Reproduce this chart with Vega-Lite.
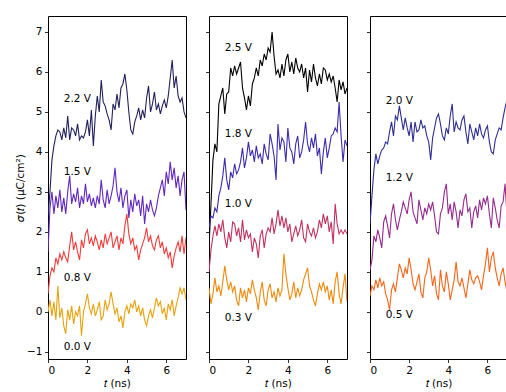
{
  "$schema": "https://vega.github.io/schema/vega-lite/v6.json",
  "padding": {"left": 15, "top": 15, "right": 0, "bottom": 0},
  "background": "white",
  "config": {
    "view": {"stroke": "#000", "strokeWidth": 1},
    "concat": {"spacing": 17},
    "axis": {
      "domain": false, "grid": false,
      "tickColor": "#000", "tickSize": 3.5, "tickWidth": 0.8,
      "labelColor": "#000", "labelFont": "DejaVu Sans", "labelFontSize": 10.5, "labelPadding": 2.5,
      "titleFont": "DejaVu Sans", "titleFontSize": 10.5, "titleFontWeight": "normal", "titleColor": "#000"
    },
    "text": {"font": "DejaVu Sans"}
  },
  "datasets": {
    "labels": [
      {"s": "2.2 V", "t": 0.8, "v": 5.33}, {"s": "1.5 V", "t": 0.8, "v": 3.51},
      {"s": "0.8 V", "t": 0.8, "v": 0.85}, {"s": "0.0 V", "t": 0.8, "v": -0.89},
      {"s": "2.5 V", "t": 0.8, "v": 6.6}, {"s": "1.8 V", "t": 0.8, "v": 4.44},
      {"s": "1.0 V", "t": 0.8, "v": 2.7}, {"s": "0.3 V", "t": 0.8, "v": -0.15},
      {"s": "2.0 V", "t": 0.8, "v": 5.27}, {"s": "1.2 V", "t": 0.8, "v": 3.36},
      {"s": "0.5 V", "t": 0.8, "v": -0.08}
    ],
    "curves": [
{"s":"2.2 V","t":0,"v":2.4},{"s":"2.2 V","t":0.1,"v":3.0},{"s":"2.2 V","t":0.2,"v":3.8},{"s":"2.2 V","t":0.3,"v":4.15},{"s":"2.2 V","t":0.4,"v":4.4},{"s":"2.2 V","t":0.5,"v":4.55},{"s":"2.2 V","t":0.6,"v":4.5},{"s":"2.2 V","t":0.7,"v":4.3},{"s":"2.2 V","t":0.8,"v":4.6},{"s":"2.2 V","t":0.9,"v":4.35},
{"s":"2.2 V","t":1.0,"v":4.9},{"s":"2.2 V","t":1.1,"v":4.3},{"s":"2.2 V","t":1.2,"v":4.6},{"s":"2.2 V","t":1.3,"v":4.55},{"s":"2.2 V","t":1.4,"v":4.4},{"s":"2.2 V","t":1.5,"v":4.7},{"s":"2.2 V","t":1.6,"v":4.3},{"s":"2.2 V","t":1.7,"v":4.4},{"s":"2.2 V","t":1.8,"v":4.35},{"s":"2.2 V","t":1.9,"v":4.5},
{"s":"2.2 V","t":2.0,"v":4.8},{"s":"2.2 V","t":2.1,"v":4.4},{"s":"2.2 V","t":2.2,"v":5.05},{"s":"2.2 V","t":2.3,"v":4.15},{"s":"2.2 V","t":2.4,"v":4.9},{"s":"2.2 V","t":2.5,"v":5.4},{"s":"2.2 V","t":2.6,"v":5.0},{"s":"2.2 V","t":2.7,"v":5.8},{"s":"2.2 V","t":2.8,"v":5.25},{"s":"2.2 V","t":2.9,"v":5.15},
{"s":"2.2 V","t":3.0,"v":4.95},{"s":"2.2 V","t":3.1,"v":4.8},{"s":"2.2 V","t":3.2,"v":4.55},{"s":"2.2 V","t":3.3,"v":5.2},{"s":"2.2 V","t":3.4,"v":5.05},{"s":"2.2 V","t":3.5,"v":5.45},{"s":"2.2 V","t":3.6,"v":5.1},{"s":"2.2 V","t":3.7,"v":5.6},{"s":"2.2 V","t":3.8,"v":5.7},{"s":"2.2 V","t":3.9,"v":5.95},
{"s":"2.2 V","t":4.0,"v":5.55},{"s":"2.2 V","t":4.1,"v":5.0},{"s":"2.2 V","t":4.2,"v":4.55},{"s":"2.2 V","t":4.3,"v":4.45},{"s":"2.2 V","t":4.4,"v":4.75},{"s":"2.2 V","t":4.5,"v":4.9},{"s":"2.2 V","t":4.6,"v":5.1},{"s":"2.2 V","t":4.7,"v":4.8},{"s":"2.2 V","t":4.8,"v":5.05},{"s":"2.2 V","t":4.9,"v":4.85},
{"s":"2.2 V","t":5.0,"v":5.35},{"s":"2.2 V","t":5.1,"v":5.65},{"s":"2.2 V","t":5.2,"v":5.0},{"s":"2.2 V","t":5.3,"v":5.2},{"s":"2.2 V","t":5.4,"v":5.5},{"s":"2.2 V","t":5.5,"v":5.05},{"s":"2.2 V","t":5.6,"v":5.2},{"s":"2.2 V","t":5.7,"v":4.95},{"s":"2.2 V","t":5.8,"v":5.15},{"s":"2.2 V","t":5.9,"v":5.3},
{"s":"2.2 V","t":6.0,"v":5.1},{"s":"2.2 V","t":6.1,"v":5.4},{"s":"2.2 V","t":6.2,"v":5.85},{"s":"2.2 V","t":6.3,"v":6.3},{"s":"2.2 V","t":6.4,"v":5.6},{"s":"2.2 V","t":6.5,"v":5.9},{"s":"2.2 V","t":6.6,"v":5.4},{"s":"2.2 V","t":6.7,"v":5.25},{"s":"2.2 V","t":6.8,"v":5.35},{"s":"2.2 V","t":6.9,"v":5.0},{"s":"2.2 V","t":7.0,"v":4.85},

{"s":"1.5 V","t":0,"v":1.5},{"s":"1.5 V","t":0.1,"v":2.6},{"s":"1.5 V","t":0.2,"v":3.0},{"s":"1.5 V","t":0.3,"v":2.45},{"s":"1.5 V","t":0.4,"v":2.9},{"s":"1.5 V","t":0.5,"v":2.6},{"s":"1.5 V","t":0.6,"v":3.05},{"s":"1.5 V","t":0.7,"v":2.5},{"s":"1.5 V","t":0.8,"v":2.85},{"s":"1.5 V","t":0.9,"v":2.45},
{"s":"1.5 V","t":1.0,"v":3.0},{"s":"1.5 V","t":1.1,"v":3.4},{"s":"1.5 V","t":1.2,"v":2.7},{"s":"1.5 V","t":1.3,"v":2.95},{"s":"1.5 V","t":1.4,"v":2.75},{"s":"1.5 V","t":1.5,"v":3.1},{"s":"1.5 V","t":1.6,"v":2.6},{"s":"1.5 V","t":1.7,"v":2.9},{"s":"1.5 V","t":1.8,"v":2.7},{"s":"1.5 V","t":1.9,"v":3.2},
{"s":"1.5 V","t":2.0,"v":2.75},{"s":"1.5 V","t":2.1,"v":2.95},{"s":"1.5 V","t":2.2,"v":2.65},{"s":"1.5 V","t":2.3,"v":2.85},{"s":"1.5 V","t":2.4,"v":2.6},{"s":"1.5 V","t":2.5,"v":2.9},{"s":"1.5 V","t":2.6,"v":2.7},{"s":"1.5 V","t":2.7,"v":3.3},{"s":"1.5 V","t":2.8,"v":2.8},{"s":"1.5 V","t":2.9,"v":2.6},
{"s":"1.5 V","t":3.0,"v":3.05},{"s":"1.5 V","t":3.1,"v":2.7},{"s":"1.5 V","t":3.2,"v":2.9},{"s":"1.5 V","t":3.3,"v":3.15},{"s":"1.5 V","t":3.4,"v":3.6},{"s":"1.5 V","t":3.5,"v":3.0},{"s":"1.5 V","t":3.6,"v":2.75},{"s":"1.5 V","t":3.7,"v":3.1},{"s":"1.5 V","t":3.8,"v":2.6},{"s":"1.5 V","t":3.9,"v":2.9},
{"s":"1.5 V","t":4.0,"v":3.05},{"s":"1.5 V","t":4.1,"v":2.35},{"s":"1.5 V","t":4.2,"v":2.8},{"s":"1.5 V","t":4.3,"v":2.5},{"s":"1.5 V","t":4.4,"v":2.95},{"s":"1.5 V","t":4.5,"v":2.65},{"s":"1.5 V","t":4.6,"v":2.8},{"s":"1.5 V","t":4.7,"v":2.4},{"s":"1.5 V","t":4.8,"v":2.9},{"s":"1.5 V","t":4.9,"v":2.2},
{"s":"1.5 V","t":5.0,"v":2.7},{"s":"1.5 V","t":5.1,"v":2.5},{"s":"1.5 V","t":5.2,"v":2.8},{"s":"1.5 V","t":5.3,"v":2.55},{"s":"1.5 V","t":5.4,"v":2.4},{"s":"1.5 V","t":5.5,"v":2.6},{"s":"1.5 V","t":5.6,"v":2.9},{"s":"1.5 V","t":5.7,"v":3.1},{"s":"1.5 V","t":5.8,"v":3.3},{"s":"1.5 V","t":5.9,"v":2.9},
{"s":"1.5 V","t":6.0,"v":3.5},{"s":"1.5 V","t":6.1,"v":3.2},{"s":"1.5 V","t":6.2,"v":3.75},{"s":"1.5 V","t":6.3,"v":3.3},{"s":"1.5 V","t":6.4,"v":3.6},{"s":"1.5 V","t":6.5,"v":3.1},{"s":"1.5 V","t":6.6,"v":3.4},{"s":"1.5 V","t":6.7,"v":2.9},{"s":"1.5 V","t":6.8,"v":3.3},{"s":"1.5 V","t":6.9,"v":3.5},{"s":"1.5 V","t":7.0,"v":2.55},

{"s":"0.8 V","t":0,"v":0.45},{"s":"0.8 V","t":0.1,"v":0.9},{"s":"0.8 V","t":0.2,"v":1.1},{"s":"0.8 V","t":0.3,"v":1.0},{"s":"0.8 V","t":0.4,"v":1.35},{"s":"0.8 V","t":0.5,"v":1.2},{"s":"0.8 V","t":0.6,"v":1.45},{"s":"0.8 V","t":0.7,"v":1.3},{"s":"0.8 V","t":0.8,"v":1.5},{"s":"0.8 V","t":0.9,"v":1.35},
{"s":"0.8 V","t":1.0,"v":1.25},{"s":"0.8 V","t":1.1,"v":1.65},{"s":"0.8 V","t":1.2,"v":2.0},{"s":"0.8 V","t":1.3,"v":1.55},{"s":"0.8 V","t":1.4,"v":1.75},{"s":"0.8 V","t":1.5,"v":1.5},{"s":"0.8 V","t":1.6,"v":1.3},{"s":"0.8 V","t":1.7,"v":1.8},{"s":"0.8 V","t":1.8,"v":1.6},{"s":"0.8 V","t":1.9,"v":1.95},
{"s":"0.8 V","t":2.0,"v":2.05},{"s":"0.8 V","t":2.1,"v":1.7},{"s":"0.8 V","t":2.2,"v":1.85},{"s":"0.8 V","t":2.3,"v":1.65},{"s":"0.8 V","t":2.4,"v":1.9},{"s":"0.8 V","t":2.5,"v":1.75},{"s":"0.8 V","t":2.6,"v":1.55},{"s":"0.8 V","t":2.7,"v":1.8},{"s":"0.8 V","t":2.8,"v":1.6},{"s":"0.8 V","t":2.9,"v":1.95},
{"s":"0.8 V","t":3.0,"v":1.7},{"s":"0.8 V","t":3.1,"v":1.85},{"s":"0.8 V","t":3.2,"v":2.0},{"s":"0.8 V","t":3.3,"v":1.6},{"s":"0.8 V","t":3.4,"v":1.75},{"s":"0.8 V","t":3.5,"v":1.9},{"s":"0.8 V","t":3.6,"v":1.55},{"s":"0.8 V","t":3.7,"v":1.85},{"s":"0.8 V","t":3.8,"v":1.7},{"s":"0.8 V","t":3.9,"v":2.15},
{"s":"0.8 V","t":4.0,"v":2.45},{"s":"0.8 V","t":4.1,"v":1.95},{"s":"0.8 V","t":4.2,"v":1.7},{"s":"0.8 V","t":4.3,"v":1.85},{"s":"0.8 V","t":4.4,"v":1.55},{"s":"0.8 V","t":4.5,"v":1.65},{"s":"0.8 V","t":4.6,"v":1.3},{"s":"0.8 V","t":4.7,"v":1.55},{"s":"0.8 V","t":4.8,"v":1.7},{"s":"0.8 V","t":4.9,"v":1.85},
{"s":"0.8 V","t":5.0,"v":2.1},{"s":"0.8 V","t":5.1,"v":1.75},{"s":"0.8 V","t":5.2,"v":1.9},{"s":"0.8 V","t":5.3,"v":1.65},{"s":"0.8 V","t":5.4,"v":1.55},{"s":"0.8 V","t":5.5,"v":1.8},{"s":"0.8 V","t":5.6,"v":1.9},{"s":"0.8 V","t":5.7,"v":1.6},{"s":"0.8 V","t":5.8,"v":1.75},{"s":"0.8 V","t":5.9,"v":1.45},
{"s":"0.8 V","t":6.0,"v":1.6},{"s":"0.8 V","t":6.1,"v":1.35},{"s":"0.8 V","t":6.2,"v":1.5},{"s":"0.8 V","t":6.3,"v":1.1},{"s":"0.8 V","t":6.4,"v":1.4},{"s":"0.8 V","t":6.5,"v":1.6},{"s":"0.8 V","t":6.6,"v":1.75},{"s":"0.8 V","t":6.7,"v":1.5},{"s":"0.8 V","t":6.8,"v":1.9},{"s":"0.8 V","t":6.9,"v":1.45},{"s":"0.8 V","t":7.0,"v":1.85},

{"s":"0.0 V","t":0,"v":0.0},{"s":"0.0 V","t":0.1,"v":0.3},{"s":"0.0 V","t":0.2,"v":-0.1},{"s":"0.0 V","t":0.3,"v":0.25},{"s":"0.0 V","t":0.4,"v":-0.2},{"s":"0.0 V","t":0.5,"v":0.65},{"s":"0.0 V","t":0.6,"v":-0.15},{"s":"0.0 V","t":0.7,"v":0.1},{"s":"0.0 V","t":0.8,"v":-0.35},{"s":"0.0 V","t":0.9,"v":-0.55},
{"s":"0.0 V","t":1.0,"v":0.05},{"s":"0.0 V","t":1.1,"v":-0.2},{"s":"0.0 V","t":1.2,"v":0.15},{"s":"0.0 V","t":1.3,"v":-0.3},{"s":"0.0 V","t":1.4,"v":0.0},{"s":"0.0 V","t":1.5,"v":-0.1},{"s":"0.0 V","t":1.6,"v":0.15},{"s":"0.0 V","t":1.7,"v":-0.6},{"s":"0.0 V","t":1.8,"v":0.0},{"s":"0.0 V","t":1.9,"v":0.2},
{"s":"0.0 V","t":2.0,"v":0.45},{"s":"0.0 V","t":2.1,"v":0.1},{"s":"0.0 V","t":2.2,"v":-0.05},{"s":"0.0 V","t":2.3,"v":0.2},{"s":"0.0 V","t":2.4,"v":-0.1},{"s":"0.0 V","t":2.5,"v":0.05},{"s":"0.0 V","t":2.6,"v":0.25},{"s":"0.0 V","t":2.7,"v":-0.2},{"s":"0.0 V","t":2.8,"v":-0.1},{"s":"0.0 V","t":2.9,"v":0.3},
{"s":"0.0 V","t":3.0,"v":0.05},{"s":"0.0 V","t":3.1,"v":0.2},{"s":"0.0 V","t":3.2,"v":0.5},{"s":"0.0 V","t":3.3,"v":0.2},{"s":"0.0 V","t":3.4,"v":-0.05},{"s":"0.0 V","t":3.5,"v":0.1},{"s":"0.0 V","t":3.6,"v":-0.25},{"s":"0.0 V","t":3.7,"v":-0.1},{"s":"0.0 V","t":3.8,"v":-0.4},{"s":"0.0 V","t":3.9,"v":0.0},
{"s":"0.0 V","t":4.0,"v":0.15},{"s":"0.0 V","t":4.1,"v":-0.05},{"s":"0.0 V","t":4.2,"v":0.2},{"s":"0.0 V","t":4.3,"v":0.1},{"s":"0.0 V","t":4.4,"v":0.3},{"s":"0.0 V","t":4.5,"v":0.0},{"s":"0.0 V","t":4.6,"v":0.15},{"s":"0.0 V","t":4.7,"v":-0.1},{"s":"0.0 V","t":4.8,"v":0.1},{"s":"0.0 V","t":4.9,"v":-0.2},
{"s":"0.0 V","t":5.0,"v":-0.35},{"s":"0.0 V","t":5.1,"v":-0.1},{"s":"0.0 V","t":5.2,"v":0.05},{"s":"0.0 V","t":5.3,"v":-0.15},{"s":"0.0 V","t":5.4,"v":0.1},{"s":"0.0 V","t":5.5,"v":0.35},{"s":"0.0 V","t":5.6,"v":0.15},{"s":"0.0 V","t":5.7,"v":0.25},{"s":"0.0 V","t":5.8,"v":-0.05},{"s":"0.0 V","t":5.9,"v":0.1},
{"s":"0.0 V","t":6.0,"v":-0.2},{"s":"0.0 V","t":6.1,"v":0.2},{"s":"0.0 V","t":6.2,"v":0.05},{"s":"0.0 V","t":6.3,"v":0.3},{"s":"0.0 V","t":6.4,"v":-0.1},{"s":"0.0 V","t":6.5,"v":0.15},{"s":"0.0 V","t":6.6,"v":0.35},{"s":"0.0 V","t":6.7,"v":0.6},{"s":"0.0 V","t":6.8,"v":0.45},{"s":"0.0 V","t":6.9,"v":0.6},{"s":"0.0 V","t":7.0,"v":0.3},

{"s":"2.5 V","t":0,"v":1.6},{"s":"2.5 V","t":0.1,"v":2.7},{"s":"2.5 V","t":0.2,"v":3.8},{"s":"2.5 V","t":0.3,"v":4.2},{"s":"2.5 V","t":0.4,"v":4.0},{"s":"2.5 V","t":0.5,"v":5.2},{"s":"2.5 V","t":0.6,"v":5.4},{"s":"2.5 V","t":0.7,"v":5.6},{"s":"2.5 V","t":0.8,"v":4.95},{"s":"2.5 V","t":0.9,"v":5.45},
{"s":"2.5 V","t":1.0,"v":5.5},{"s":"2.5 V","t":1.1,"v":6.1},{"s":"2.5 V","t":1.2,"v":5.9},{"s":"2.5 V","t":1.3,"v":6.15},{"s":"2.5 V","t":1.4,"v":5.95},{"s":"2.5 V","t":1.5,"v":6.1},{"s":"2.5 V","t":1.6,"v":6.25},{"s":"2.5 V","t":1.7,"v":5.6},{"s":"2.5 V","t":1.8,"v":5.35},{"s":"2.5 V","t":1.9,"v":5.05},
{"s":"2.5 V","t":2.0,"v":5.4},{"s":"2.5 V","t":2.1,"v":5.15},{"s":"2.5 V","t":2.2,"v":5.7},{"s":"2.5 V","t":2.3,"v":5.85},{"s":"2.5 V","t":2.4,"v":6.1},{"s":"2.5 V","t":2.5,"v":5.9},{"s":"2.5 V","t":2.6,"v":6.3},{"s":"2.5 V","t":2.7,"v":6.15},{"s":"2.5 V","t":2.8,"v":6.45},{"s":"2.5 V","t":2.9,"v":6.3},
{"s":"2.5 V","t":3.0,"v":6.6},{"s":"2.5 V","t":3.1,"v":6.5},{"s":"2.5 V","t":3.2,"v":7.0},{"s":"2.5 V","t":3.3,"v":6.4},{"s":"2.5 V","t":3.4,"v":5.95},{"s":"2.5 V","t":3.5,"v":6.05},{"s":"2.5 V","t":3.6,"v":5.85},{"s":"2.5 V","t":3.7,"v":6.2},{"s":"2.5 V","t":3.8,"v":5.9},{"s":"2.5 V","t":3.9,"v":6.3},
{"s":"2.5 V","t":4.0,"v":6.45},{"s":"2.5 V","t":4.1,"v":6.0},{"s":"2.5 V","t":4.2,"v":6.25},{"s":"2.5 V","t":4.3,"v":5.95},{"s":"2.5 V","t":4.4,"v":6.35},{"s":"2.5 V","t":4.5,"v":6.1},{"s":"2.5 V","t":4.6,"v":6.0},{"s":"2.5 V","t":4.7,"v":6.2},{"s":"2.5 V","t":4.8,"v":5.85},{"s":"2.5 V","t":4.9,"v":6.1},
{"s":"2.5 V","t":5.0,"v":5.5},{"s":"2.5 V","t":5.1,"v":6.05},{"s":"2.5 V","t":5.2,"v":5.75},{"s":"2.5 V","t":5.3,"v":6.2},{"s":"2.5 V","t":5.4,"v":5.85},{"s":"2.5 V","t":5.5,"v":5.65},{"s":"2.5 V","t":5.6,"v":5.95},{"s":"2.5 V","t":5.7,"v":5.7},{"s":"2.5 V","t":5.8,"v":6.1},{"s":"2.5 V","t":5.9,"v":6.05},
{"s":"2.5 V","t":6.0,"v":5.8},{"s":"2.5 V","t":6.1,"v":5.95},{"s":"2.5 V","t":6.2,"v":5.75},{"s":"2.5 V","t":6.3,"v":5.9},{"s":"2.5 V","t":6.4,"v":5.6},{"s":"2.5 V","t":6.5,"v":5.25},{"s":"2.5 V","t":6.6,"v":5.8},{"s":"2.5 V","t":6.7,"v":5.55},{"s":"2.5 V","t":6.8,"v":5.75},{"s":"2.5 V","t":6.9,"v":5.45},{"s":"2.5 V","t":7.0,"v":5.6},

{"s":"1.8 V","t":0,"v":2.1},{"s":"1.8 V","t":0.1,"v":2.4},{"s":"1.8 V","t":0.2,"v":2.35},{"s":"1.8 V","t":0.3,"v":2.6},{"s":"1.8 V","t":0.4,"v":2.5},{"s":"1.8 V","t":0.5,"v":2.9},{"s":"1.8 V","t":0.6,"v":3.1},{"s":"1.8 V","t":0.7,"v":3.4},{"s":"1.8 V","t":0.8,"v":3.85},{"s":"1.8 V","t":0.9,"v":3.3},
{"s":"1.8 V","t":1.0,"v":3.05},{"s":"1.8 V","t":1.1,"v":3.5},{"s":"1.8 V","t":1.2,"v":3.35},{"s":"1.8 V","t":1.3,"v":3.7},{"s":"1.8 V","t":1.4,"v":3.45},{"s":"1.8 V","t":1.5,"v":3.55},{"s":"1.8 V","t":1.6,"v":3.75},{"s":"1.8 V","t":1.7,"v":4.1},{"s":"1.8 V","t":1.8,"v":3.6},{"s":"1.8 V","t":1.9,"v":3.85},
{"s":"1.8 V","t":2.0,"v":4.25},{"s":"1.8 V","t":2.1,"v":3.9},{"s":"1.8 V","t":2.2,"v":4.05},{"s":"1.8 V","t":2.3,"v":3.75},{"s":"1.8 V","t":2.4,"v":4.15},{"s":"1.8 V","t":2.5,"v":3.85},{"s":"1.8 V","t":2.6,"v":3.95},{"s":"1.8 V","t":2.7,"v":3.7},{"s":"1.8 V","t":2.8,"v":4.2},{"s":"1.8 V","t":2.9,"v":3.95},
{"s":"1.8 V","t":3.0,"v":3.8},{"s":"1.8 V","t":3.1,"v":4.45},{"s":"1.8 V","t":3.2,"v":4.2},{"s":"1.8 V","t":3.3,"v":3.9},{"s":"1.8 V","t":3.4,"v":3.3},{"s":"1.8 V","t":3.5,"v":4.7},{"s":"1.8 V","t":3.6,"v":4.05},{"s":"1.8 V","t":3.7,"v":4.35},{"s":"1.8 V","t":3.8,"v":4.25},{"s":"1.8 V","t":3.9,"v":3.75},
{"s":"1.8 V","t":4.0,"v":4.6},{"s":"1.8 V","t":4.1,"v":4.1},{"s":"1.8 V","t":4.2,"v":4.0},{"s":"1.8 V","t":4.3,"v":3.7},{"s":"1.8 V","t":4.4,"v":4.2},{"s":"1.8 V","t":4.5,"v":4.4},{"s":"1.8 V","t":4.6,"v":3.85},{"s":"1.8 V","t":4.7,"v":4.0},{"s":"1.8 V","t":4.8,"v":4.3},{"s":"1.8 V","t":4.9,"v":4.75},
{"s":"1.8 V","t":5.0,"v":4.2},{"s":"1.8 V","t":5.1,"v":4.0},{"s":"1.8 V","t":5.2,"v":4.35},{"s":"1.8 V","t":5.3,"v":4.1},{"s":"1.8 V","t":5.4,"v":4.45},{"s":"1.8 V","t":5.5,"v":3.9},{"s":"1.8 V","t":5.6,"v":4.1},{"s":"1.8 V","t":5.7,"v":3.45},{"s":"1.8 V","t":5.8,"v":4.0},{"s":"1.8 V","t":5.9,"v":4.35},
{"s":"1.8 V","t":6.0,"v":3.85},{"s":"1.8 V","t":6.1,"v":4.1},{"s":"1.8 V","t":6.2,"v":4.4},{"s":"1.8 V","t":6.3,"v":4.45},{"s":"1.8 V","t":6.4,"v":4.6},{"s":"1.8 V","t":6.5,"v":4.5},{"s":"1.8 V","t":6.6,"v":5.25},{"s":"1.8 V","t":6.7,"v":4.4},{"s":"1.8 V","t":6.8,"v":3.75},{"s":"1.8 V","t":6.9,"v":4.3},{"s":"1.8 V","t":7.0,"v":4.15},

{"s":"1.0 V","t":0,"v":1.0},{"s":"1.0 V","t":0.1,"v":1.55},{"s":"1.0 V","t":0.2,"v":1.9},{"s":"1.0 V","t":0.3,"v":2.15},{"s":"1.0 V","t":0.4,"v":1.9},{"s":"1.0 V","t":0.5,"v":2.2},{"s":"1.0 V","t":0.6,"v":2.0},{"s":"1.0 V","t":0.7,"v":2.3},{"s":"1.0 V","t":0.8,"v":1.85},{"s":"1.0 V","t":0.9,"v":1.6},
{"s":"1.0 V","t":1.0,"v":2.0},{"s":"1.0 V","t":1.1,"v":1.75},{"s":"1.0 V","t":1.2,"v":2.25},{"s":"1.0 V","t":1.3,"v":2.2},{"s":"1.0 V","t":1.4,"v":1.9},{"s":"1.0 V","t":1.5,"v":2.1},{"s":"1.0 V","t":1.6,"v":1.75},{"s":"1.0 V","t":1.7,"v":2.3},{"s":"1.0 V","t":1.8,"v":1.8},{"s":"1.0 V","t":1.9,"v":2.05},
{"s":"1.0 V","t":2.0,"v":1.85},{"s":"1.0 V","t":2.1,"v":1.95},{"s":"1.0 V","t":2.2,"v":1.5},{"s":"1.0 V","t":2.3,"v":1.85},{"s":"1.0 V","t":2.4,"v":1.7},{"s":"1.0 V","t":2.5,"v":1.35},{"s":"1.0 V","t":2.6,"v":1.9},{"s":"1.0 V","t":2.7,"v":2.05},{"s":"1.0 V","t":2.8,"v":1.6},{"s":"1.0 V","t":2.9,"v":1.95},
{"s":"1.0 V","t":3.0,"v":2.1},{"s":"1.0 V","t":3.1,"v":2.0},{"s":"1.0 V","t":3.2,"v":2.35},{"s":"1.0 V","t":3.3,"v":1.95},{"s":"1.0 V","t":3.4,"v":2.2},{"s":"1.0 V","t":3.5,"v":2.55},{"s":"1.0 V","t":3.6,"v":2.15},{"s":"1.0 V","t":3.7,"v":2.4},{"s":"1.0 V","t":3.8,"v":2.1},{"s":"1.0 V","t":3.9,"v":2.35},
{"s":"1.0 V","t":4.0,"v":2.0},{"s":"1.0 V","t":4.1,"v":2.2},{"s":"1.0 V","t":4.2,"v":1.75},{"s":"1.0 V","t":4.3,"v":1.95},{"s":"1.0 V","t":4.4,"v":2.15},{"s":"1.0 V","t":4.5,"v":1.9},{"s":"1.0 V","t":4.6,"v":2.05},{"s":"1.0 V","t":4.7,"v":2.3},{"s":"1.0 V","t":4.8,"v":1.85},{"s":"1.0 V","t":4.9,"v":1.75},
{"s":"1.0 V","t":5.0,"v":2.2},{"s":"1.0 V","t":5.1,"v":2.0},{"s":"1.0 V","t":5.2,"v":1.9},{"s":"1.0 V","t":5.3,"v":2.1},{"s":"1.0 V","t":5.4,"v":1.85},{"s":"1.0 V","t":5.5,"v":2.0},{"s":"1.0 V","t":5.6,"v":2.3},{"s":"1.0 V","t":5.7,"v":2.1},{"s":"1.0 V","t":5.8,"v":2.45},{"s":"1.0 V","t":5.9,"v":2.2},
{"s":"1.0 V","t":6.0,"v":2.4},{"s":"1.0 V","t":6.1,"v":2.0},{"s":"1.0 V","t":6.2,"v":2.25},{"s":"1.0 V","t":6.3,"v":1.7},{"s":"1.0 V","t":6.4,"v":2.7},{"s":"1.0 V","t":6.5,"v":2.2},{"s":"1.0 V","t":6.6,"v":1.95},{"s":"1.0 V","t":6.7,"v":2.05},{"s":"1.0 V","t":6.8,"v":1.95},{"s":"1.0 V","t":6.9,"v":2.05},{"s":"1.0 V","t":7.0,"v":1.95},

{"s":"0.3 V","t":0,"v":0.6},{"s":"0.3 V","t":0.1,"v":0.2},{"s":"0.3 V","t":0.2,"v":0.45},{"s":"0.3 V","t":0.3,"v":0.85},{"s":"0.3 V","t":0.4,"v":0.5},{"s":"0.3 V","t":0.5,"v":0.65},{"s":"0.3 V","t":0.6,"v":0.4},{"s":"0.3 V","t":0.7,"v":0.75},{"s":"0.3 V","t":0.8,"v":1.15},{"s":"0.3 V","t":0.9,"v":0.8},
{"s":"0.3 V","t":1.0,"v":0.55},{"s":"0.3 V","t":1.1,"v":0.75},{"s":"0.3 V","t":1.2,"v":0.5},{"s":"0.3 V","t":1.3,"v":0.65},{"s":"0.3 V","t":1.4,"v":0.3},{"s":"0.3 V","t":1.5,"v":0.15},{"s":"0.3 V","t":1.6,"v":0.6},{"s":"0.3 V","t":1.7,"v":0.35},{"s":"0.3 V","t":1.8,"v":0.55},{"s":"0.3 V","t":1.9,"v":0.25},
{"s":"0.3 V","t":2.0,"v":0.6},{"s":"0.3 V","t":2.1,"v":0.45},{"s":"0.3 V","t":2.2,"v":0.8},{"s":"0.3 V","t":2.3,"v":0.55},{"s":"0.3 V","t":2.4,"v":0.35},{"s":"0.3 V","t":2.5,"v":0.05},{"s":"0.3 V","t":2.6,"v":0.5},{"s":"0.3 V","t":2.7,"v":0.75},{"s":"0.3 V","t":2.8,"v":0.3},{"s":"0.3 V","t":2.9,"v":0.15},
{"s":"0.3 V","t":3.0,"v":0.55},{"s":"0.3 V","t":3.1,"v":0.7},{"s":"0.3 V","t":3.2,"v":0.35},{"s":"0.3 V","t":3.3,"v":0.5},{"s":"0.3 V","t":3.4,"v":0.25},{"s":"0.3 V","t":3.5,"v":0.6},{"s":"0.3 V","t":3.6,"v":0.4},{"s":"0.3 V","t":3.7,"v":0.55},{"s":"0.3 V","t":3.8,"v":1.45},{"s":"0.3 V","t":3.9,"v":0.95},
{"s":"0.3 V","t":4.0,"v":0.6},{"s":"0.3 V","t":4.1,"v":0.3},{"s":"0.3 V","t":4.2,"v":0.45},{"s":"0.3 V","t":4.3,"v":0.75},{"s":"0.3 V","t":4.4,"v":0.35},{"s":"0.3 V","t":4.5,"v":0.6},{"s":"0.3 V","t":4.6,"v":0.4},{"s":"0.3 V","t":4.7,"v":0.55},{"s":"0.3 V","t":4.8,"v":0.8},{"s":"0.3 V","t":4.9,"v":0.95},
{"s":"0.3 V","t":5.0,"v":1.1},{"s":"0.3 V","t":5.1,"v":0.65},{"s":"0.3 V","t":5.2,"v":0.5},{"s":"0.3 V","t":5.3,"v":0.3},{"s":"0.3 V","t":5.4,"v":0.15},{"s":"0.3 V","t":5.5,"v":0.45},{"s":"0.3 V","t":5.6,"v":0.7},{"s":"0.3 V","t":5.7,"v":0.55},{"s":"0.3 V","t":5.8,"v":0.75},{"s":"0.3 V","t":5.9,"v":0.5},
{"s":"0.3 V","t":6.0,"v":0.65},{"s":"0.3 V","t":6.1,"v":0.3},{"s":"0.3 V","t":6.2,"v":0.55},{"s":"0.3 V","t":6.3,"v":0.2},{"s":"0.3 V","t":6.4,"v":0.75},{"s":"0.3 V","t":6.5,"v":1.0},{"s":"0.3 V","t":6.6,"v":0.45},{"s":"0.3 V","t":6.7,"v":0.2},{"s":"0.3 V","t":6.8,"v":0.6},{"s":"0.3 V","t":6.9,"v":0.95},{"s":"0.3 V","t":7.0,"v":0.25},

{"s":"2.0 V","t":0,"v":2.2},{"s":"2.0 V","t":0.1,"v":2.9},{"s":"2.0 V","t":0.2,"v":3.55},{"s":"2.0 V","t":0.3,"v":3.95},{"s":"2.0 V","t":0.4,"v":3.7},{"s":"2.0 V","t":0.5,"v":3.9},{"s":"2.0 V","t":0.6,"v":4.05},{"s":"2.0 V","t":0.7,"v":4.1},{"s":"2.0 V","t":0.8,"v":4.25},{"s":"2.0 V","t":0.9,"v":4.2},
{"s":"2.0 V","t":1.0,"v":4.5},{"s":"2.0 V","t":1.1,"v":4.75},{"s":"2.0 V","t":1.2,"v":4.4},{"s":"2.0 V","t":1.3,"v":4.9},{"s":"2.0 V","t":1.4,"v":4.8},{"s":"2.0 V","t":1.5,"v":5.15},{"s":"2.0 V","t":1.6,"v":4.85},{"s":"2.0 V","t":1.7,"v":4.55},{"s":"2.0 V","t":1.8,"v":4.85},{"s":"2.0 V","t":1.9,"v":4.6},
{"s":"2.0 V","t":2.0,"v":4.4},{"s":"2.0 V","t":2.1,"v":4.75},{"s":"2.0 V","t":2.2,"v":4.25},{"s":"2.0 V","t":2.3,"v":4.75},{"s":"2.0 V","t":2.4,"v":4.5},{"s":"2.0 V","t":2.5,"v":4.55},{"s":"2.0 V","t":2.6,"v":4.8},{"s":"2.0 V","t":2.7,"v":4.6},{"s":"2.0 V","t":2.8,"v":4.65},{"s":"2.0 V","t":2.9,"v":4.4},
{"s":"2.0 V","t":3.0,"v":4.25},{"s":"2.0 V","t":3.1,"v":3.8},{"s":"2.0 V","t":3.2,"v":4.35},{"s":"2.0 V","t":3.3,"v":4.6},{"s":"2.0 V","t":3.4,"v":4.85},{"s":"2.0 V","t":3.5,"v":4.95},{"s":"2.0 V","t":3.6,"v":4.7},{"s":"2.0 V","t":3.7,"v":4.4},{"s":"2.0 V","t":3.8,"v":4.3},{"s":"2.0 V","t":3.9,"v":4.6},
{"s":"2.0 V","t":4.0,"v":4.45},{"s":"2.0 V","t":4.1,"v":4.9},{"s":"2.0 V","t":4.2,"v":5.2},{"s":"2.0 V","t":4.3,"v":4.5},{"s":"2.0 V","t":4.4,"v":4.75},{"s":"2.0 V","t":4.5,"v":4.6},{"s":"2.0 V","t":4.6,"v":4.55},{"s":"2.0 V","t":4.7,"v":4.8},{"s":"2.0 V","t":4.8,"v":4.9},{"s":"2.0 V","t":4.9,"v":4.5},
{"s":"2.0 V","t":5.0,"v":4.2},{"s":"2.0 V","t":5.1,"v":4.7},{"s":"2.0 V","t":5.2,"v":4.5},{"s":"2.0 V","t":5.3,"v":4.3},{"s":"2.0 V","t":5.4,"v":4.6},{"s":"2.0 V","t":5.5,"v":4.4},{"s":"2.0 V","t":5.6,"v":4.7},{"s":"2.0 V","t":5.7,"v":4.45},{"s":"2.0 V","t":5.8,"v":4.35},{"s":"2.0 V","t":5.9,"v":4.55},
{"s":"2.0 V","t":6.0,"v":4.65},{"s":"2.0 V","t":6.1,"v":4.25},{"s":"2.0 V","t":6.2,"v":4.0},{"s":"2.0 V","t":6.3,"v":3.95},{"s":"2.0 V","t":6.4,"v":4.3},{"s":"2.0 V","t":6.5,"v":4.45},{"s":"2.0 V","t":6.6,"v":4.6},{"s":"2.0 V","t":6.7,"v":4.55},{"s":"2.0 V","t":6.8,"v":4.85},{"s":"2.0 V","t":6.9,"v":5.1},{"s":"2.0 V","t":7.0,"v":5.3},

{"s":"1.2 V","t":0,"v":1.05},{"s":"1.2 V","t":0.1,"v":1.3},{"s":"1.2 V","t":0.2,"v":1.9},{"s":"1.2 V","t":0.3,"v":1.75},{"s":"1.2 V","t":0.4,"v":2.05},{"s":"1.2 V","t":0.5,"v":1.85},{"s":"1.2 V","t":0.6,"v":1.6},{"s":"1.2 V","t":0.7,"v":2.25},{"s":"1.2 V","t":0.8,"v":2.4},{"s":"1.2 V","t":0.9,"v":2.15},
{"s":"1.2 V","t":1.0,"v":1.85},{"s":"1.2 V","t":1.1,"v":2.45},{"s":"1.2 V","t":1.2,"v":2.7},{"s":"1.2 V","t":1.3,"v":2.3},{"s":"1.2 V","t":1.4,"v":2.05},{"s":"1.2 V","t":1.5,"v":2.3},{"s":"1.2 V","t":1.6,"v":2.5},{"s":"1.2 V","t":1.7,"v":2.75},{"s":"1.2 V","t":1.8,"v":2.6},{"s":"1.2 V","t":1.9,"v":2.45},
{"s":"1.2 V","t":2.0,"v":2.8},{"s":"1.2 V","t":2.1,"v":3.0},{"s":"1.2 V","t":2.2,"v":2.5},{"s":"1.2 V","t":2.3,"v":2.35},{"s":"1.2 V","t":2.4,"v":2.2},{"s":"1.2 V","t":2.5,"v":2.8},{"s":"1.2 V","t":2.6,"v":2.55},{"s":"1.2 V","t":2.7,"v":2.3},{"s":"1.2 V","t":2.8,"v":2.6},{"s":"1.2 V","t":2.9,"v":2.45},
{"s":"1.2 V","t":3.0,"v":2.7},{"s":"1.2 V","t":3.1,"v":2.55},{"s":"1.2 V","t":3.2,"v":2.75},{"s":"1.2 V","t":3.3,"v":2.4},{"s":"1.2 V","t":3.4,"v":2.0},{"s":"1.2 V","t":3.5,"v":1.95},{"s":"1.2 V","t":3.6,"v":2.45},{"s":"1.2 V","t":3.7,"v":2.6},{"s":"1.2 V","t":3.8,"v":3.0},{"s":"1.2 V","t":3.9,"v":3.2},
{"s":"1.2 V","t":4.0,"v":2.45},{"s":"1.2 V","t":4.1,"v":2.7},{"s":"1.2 V","t":4.2,"v":2.3},{"s":"1.2 V","t":4.3,"v":2.75},{"s":"1.2 V","t":4.4,"v":2.5},{"s":"1.2 V","t":4.5,"v":2.1},{"s":"1.2 V","t":4.6,"v":2.55},{"s":"1.2 V","t":4.7,"v":2.4},{"s":"1.2 V","t":4.8,"v":2.8},{"s":"1.2 V","t":4.9,"v":2.95},
{"s":"1.2 V","t":5.0,"v":2.5},{"s":"1.2 V","t":5.1,"v":2.6},{"s":"1.2 V","t":5.2,"v":2.1},{"s":"1.2 V","t":5.3,"v":2.5},{"s":"1.2 V","t":5.4,"v":2.65},{"s":"1.2 V","t":5.5,"v":2.35},{"s":"1.2 V","t":5.6,"v":2.8},{"s":"1.2 V","t":5.7,"v":2.55},{"s":"1.2 V","t":5.8,"v":2.85},{"s":"1.2 V","t":5.9,"v":2.7},
{"s":"1.2 V","t":6.0,"v":2.9},{"s":"1.2 V","t":6.1,"v":2.45},{"s":"1.2 V","t":6.2,"v":2.1},{"s":"1.2 V","t":6.3,"v":2.85},{"s":"1.2 V","t":6.4,"v":2.6},{"s":"1.2 V","t":6.5,"v":2.3},{"s":"1.2 V","t":6.6,"v":2.1},{"s":"1.2 V","t":6.7,"v":2.65},{"s":"1.2 V","t":6.8,"v":2.75},{"s":"1.2 V","t":6.9,"v":3.2},{"s":"1.2 V","t":7.0,"v":2.4},

{"s":"0.5 V","t":0,"v":0.4},{"s":"0.5 V","t":0.1,"v":0.65},{"s":"0.5 V","t":0.2,"v":0.55},{"s":"0.5 V","t":0.3,"v":0.8},{"s":"0.5 V","t":0.4,"v":0.6},{"s":"0.5 V","t":0.5,"v":0.85},{"s":"0.5 V","t":0.6,"v":0.65},{"s":"0.5 V","t":0.7,"v":0.75},{"s":"0.5 V","t":0.8,"v":0.45},{"s":"0.5 V","t":0.9,"v":0.3},
{"s":"0.5 V","t":1.0,"v":0.05},{"s":"0.5 V","t":1.1,"v":0.55},{"s":"0.5 V","t":1.2,"v":0.7},{"s":"0.5 V","t":1.3,"v":0.5},{"s":"0.5 V","t":1.4,"v":0.85},{"s":"0.5 V","t":1.5,"v":1.2},{"s":"0.5 V","t":1.6,"v":1.05},{"s":"0.5 V","t":1.7,"v":0.85},{"s":"0.5 V","t":1.8,"v":1.1},{"s":"0.5 V","t":1.9,"v":0.95},
{"s":"0.5 V","t":2.0,"v":1.35},{"s":"0.5 V","t":2.1,"v":1.05},{"s":"0.5 V","t":2.2,"v":0.7},{"s":"0.5 V","t":2.3,"v":0.55},{"s":"0.5 V","t":2.4,"v":0.75},{"s":"0.5 V","t":2.5,"v":0.95},{"s":"0.5 V","t":2.6,"v":0.5},{"s":"0.5 V","t":2.7,"v":0.35},{"s":"0.5 V","t":2.8,"v":0.85},{"s":"0.5 V","t":2.9,"v":1.0},
{"s":"0.5 V","t":3.0,"v":1.35},{"s":"0.5 V","t":3.1,"v":1.05},{"s":"0.5 V","t":3.2,"v":0.65},{"s":"0.5 V","t":3.3,"v":0.9},{"s":"0.5 V","t":3.4,"v":0.45},{"s":"0.5 V","t":3.5,"v":0.3},{"s":"0.5 V","t":3.6,"v":1.05},{"s":"0.5 V","t":3.7,"v":0.65},{"s":"0.5 V","t":3.8,"v":0.5},{"s":"0.5 V","t":3.9,"v":1.0},
{"s":"0.5 V","t":4.0,"v":0.7},{"s":"0.5 V","t":4.1,"v":0.3},{"s":"0.5 V","t":4.2,"v":0.55},{"s":"0.5 V","t":4.3,"v":0.8},{"s":"0.5 V","t":4.4,"v":1.25},{"s":"0.5 V","t":4.5,"v":0.75},{"s":"0.5 V","t":4.6,"v":0.65},{"s":"0.5 V","t":4.7,"v":0.85},{"s":"0.5 V","t":4.8,"v":0.6},{"s":"0.5 V","t":4.9,"v":0.35},
{"s":"0.5 V","t":5.0,"v":0.7},{"s":"0.5 V","t":5.1,"v":1.05},{"s":"0.5 V","t":5.2,"v":0.8},{"s":"0.5 V","t":5.3,"v":0.7},{"s":"0.5 V","t":5.4,"v":0.85},{"s":"0.5 V","t":5.5,"v":0.9},{"s":"0.5 V","t":5.6,"v":0.75},{"s":"0.5 V","t":5.7,"v":0.55},{"s":"0.5 V","t":5.8,"v":0.9},{"s":"0.5 V","t":5.9,"v":1.2},
{"s":"0.5 V","t":6.0,"v":1.6},{"s":"0.5 V","t":6.1,"v":1.0},{"s":"0.5 V","t":6.2,"v":1.35},{"s":"0.5 V","t":6.3,"v":1.5},{"s":"0.5 V","t":6.4,"v":1.1},{"s":"0.5 V","t":6.5,"v":0.85},{"s":"0.5 V","t":6.6,"v":0.65},{"s":"0.5 V","t":6.7,"v":0.95},{"s":"0.5 V","t":6.8,"v":1.1},{"s":"0.5 V","t":6.9,"v":0.75},{"s":"0.5 V","t":7.0,"v":0.5}
    ]
  },
  "hconcat": [
    {
      "width": 138, "height": 343,
      "layer": [
        {
          "data": {"name": "curves"},
          "transform": [{"filter": {"field": "s", "oneOf": ["2.2 V", "1.5 V", "0.8 V", "0.0 V"]}}],
          "mark": {"type": "line", "strokeWidth": 1.1, "clip": true},
          "encoding": {
            "x": {"field": "t", "type": "quantitative", "scale": {"domain": [0, 7], "nice": false, "zero": false},
                  "axis": {"values": [0, 2, 4, 6], "format": "d", "title": "𝑡 (ns)", "titlePadding": 3}},
            "y": {"field": "v", "type": "quantitative", "scale": {"domain": [-1.18, 7.4], "nice": false, "zero": false},
                  "axis": {"values": [-1, 0, 1, 2, 3, 4, 5, 6, 7], "format": "d", "title": "𝜎(𝑡) (μC/cm²)", "titlePadding": 1}},
            "color": {"field": "s", "type": "nominal", "legend": null,
                      "scale": {"domain": ["0.0 V", "0.3 V", "0.5 V", "0.8 V", "1.0 V", "1.2 V", "1.5 V", "1.8 V", "2.0 V", "2.2 V", "2.5 V"],
                                "range": ["#e8a20c", "#f08a0c", "#f6661a", "#f03d3b", "#c2325f", "#962c8e", "#6228c0", "#3d2cb0", "#2e2e94", "#20205e", "#000000"]}}
          }
        },
        {
          "data": {"name": "labels"},
          "transform": [{"filter": {"field": "s", "oneOf": ["2.2 V", "1.5 V", "0.8 V", "0.0 V"]}}],
          "mark": {"type": "text", "align": "left", "baseline": "middle", "fontSize": 10.5, "color": "#000"},
          "encoding": {
            "x": {"field": "t", "type": "quantitative"},
            "y": {"field": "v", "type": "quantitative"},
            "text": {"field": "s"}
          }
        }
      ]
    },
    {
      "width": 138, "height": 343,
      "layer": [
        {
          "data": {"name": "curves"},
          "transform": [{"filter": {"field": "s", "oneOf": ["2.5 V", "1.8 V", "1.0 V", "0.3 V"]}}],
          "mark": {"type": "line", "strokeWidth": 1.1, "clip": true},
          "encoding": {
            "x": {"field": "t", "type": "quantitative", "scale": {"domain": [0, 7], "nice": false, "zero": false},
                  "axis": {"values": [0, 2, 4, 6], "format": "d", "title": "𝑡 (ns)", "titlePadding": 3}},
            "y": {"field": "v", "type": "quantitative", "scale": {"domain": [-1.18, 7.4], "nice": false, "zero": false},
                  "axis": {"values": [-1, 0, 1, 2, 3, 4, 5, 6, 7], "labels": false, "title": null}},
            "color": {"field": "s", "type": "nominal", "legend": null,
                      "scale": {"domain": ["0.0 V", "0.3 V", "0.5 V", "0.8 V", "1.0 V", "1.2 V", "1.5 V", "1.8 V", "2.0 V", "2.2 V", "2.5 V"],
                                "range": ["#e8a20c", "#f08a0c", "#f6661a", "#f03d3b", "#c2325f", "#962c8e", "#6228c0", "#3d2cb0", "#2e2e94", "#20205e", "#000000"]}}
          }
        },
        {
          "data": {"name": "labels"},
          "transform": [{"filter": {"field": "s", "oneOf": ["2.5 V", "1.8 V", "1.0 V", "0.3 V"]}}],
          "mark": {"type": "text", "align": "left", "baseline": "middle", "fontSize": 10.5, "color": "#000"},
          "encoding": {
            "x": {"field": "t", "type": "quantitative"},
            "y": {"field": "v", "type": "quantitative"},
            "text": {"field": "s"}
          }
        }
      ]
    },
    {
      "width": 137, "height": 343,
      "layer": [
        {
          "data": {"name": "curves"},
          "transform": [{"filter": {"field": "s", "oneOf": ["2.0 V", "1.2 V", "0.5 V"]}}],
          "mark": {"type": "line", "strokeWidth": 1.1, "clip": true},
          "encoding": {
            "x": {"field": "t", "type": "quantitative", "scale": {"domain": [0, 7], "nice": false, "zero": false},
                  "axis": {"values": [0, 2, 4, 6], "format": "d", "title": "𝑡 (ns)", "titlePadding": 3}},
            "y": {"field": "v", "type": "quantitative", "scale": {"domain": [-1.18, 7.4], "nice": false, "zero": false},
                  "axis": {"values": [-1, 0, 1, 2, 3, 4, 5, 6, 7], "labels": false, "title": null}},
            "color": {"field": "s", "type": "nominal", "legend": null,
                      "scale": {"domain": ["0.0 V", "0.3 V", "0.5 V", "0.8 V", "1.0 V", "1.2 V", "1.5 V", "1.8 V", "2.0 V", "2.2 V", "2.5 V"],
                                "range": ["#e8a20c", "#f08a0c", "#f6661a", "#f03d3b", "#c2325f", "#962c8e", "#6228c0", "#3d2cb0", "#2e2e94", "#20205e", "#000000"]}}
          }
        },
        {
          "data": {"name": "labels"},
          "transform": [{"filter": {"field": "s", "oneOf": ["2.0 V", "1.2 V", "0.5 V"]}}],
          "mark": {"type": "text", "align": "left", "baseline": "middle", "fontSize": 10.5, "color": "#000"},
          "encoding": {
            "x": {"field": "t", "type": "quantitative"},
            "y": {"field": "v", "type": "quantitative"},
            "text": {"field": "s"}
          }
        }
      ]
    }
  ]
}
